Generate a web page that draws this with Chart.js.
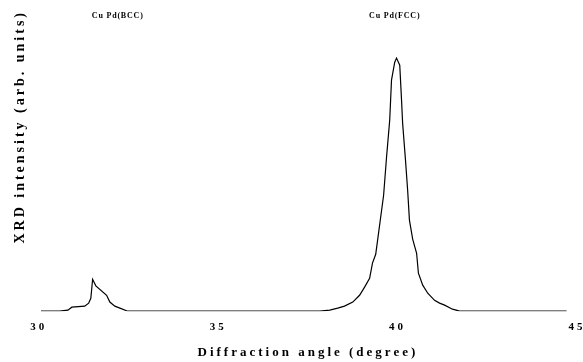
<!DOCTYPE html>
<html>
<head>
<meta charset="utf-8">
<script src="https://cdn.jsdelivr.net/npm/chart.js@4/dist/chart.umd.min.js"></script>
<style>
  html, body { margin: 0; padding: 0; background: #fff; }
  #wrap { width: 583px; height: 362px; }
</style>
</head>
<body>
<div id="wrap"><canvas id="xrd" width="583" height="362"></canvas></div>
<script>
const angles = [30.06, 30.58, 30.81, 30.92, 31.28, 31.39, 31.45, 31.50, 31.59, 31.89, 31.98, 32.12, 32.26, 32.48,
  37.83, 38.11, 38.33, 38.52, 38.75, 38.94, 39.08, 39.22, 39.30, 39.39, 39.61, 39.69, 39.78, 39.83, 39.92, 39.97,
  40.06, 40.11, 40.14, 40.22, 40.28, 40.33, 40.42, 40.53, 40.58, 40.70, 40.84, 41.03, 41.17, 41.31, 41.53, 41.73, 44.71];
const intensity = [0, 0, 0.4, 1.6, 2, 3.2, 5.1, 12.6, 10, 6.3, 3.6, 2, 1.2, 0,
  0, 0.4, 1.2, 2, 3.6, 6.3, 9.5, 13, 19, 22.5, 45.8, 60.5, 75.5, 91.3, 98.4, 100,
  97.2, 83.4, 74.3, 59.7, 47.8, 36, 28.5, 22.9, 15, 10.3, 7.1, 4.3, 3.2, 2.4, 0.8, 0, 0];
const xTicks = [30, 35, 40, 45];
const peakLabels = ['Cu Pd(BCC)', 'Cu Pd(FCC)'];
const peakLabelX = [32.2, 39.92];
const peakLabelY = [116.5, 116.5];

const serif = '"Liberation Serif", "DejaVu Serif", serif';

// espaçamento largo das letras, como no original digitalizado
const spacing = {
  id: 'spacing',
  beforeDraw(chart) { chart.ctx.letterSpacing = '3px'; },
  afterDraw(chart) { chart.ctx.letterSpacing = '0px'; }
};

// rótulos dos picos no topo
const peakText = {
  id: 'peakText',
  afterDatasetsDraw(chart) {
    const { ctx, scales } = chart;
    ctx.save();
    ctx.letterSpacing = '0.8px';
    ctx.font = 'bold 8px ' + serif;
    ctx.fillStyle = '#000';
    ctx.textAlign = 'center';
    ctx.textBaseline = 'middle';
    peakLabels.forEach((t, i) => {
      ctx.fillText(t, scales.x.getPixelForValue(peakLabelX[i]), scales.y.getPixelForValue(peakLabelY[i]));
    });
    ctx.restore();
  }
};

new Chart(document.getElementById('xrd').getContext('2d'), {
  type: 'line',
  data: {
    datasets: [{
      data: angles.map((a, i) => ({ x: a, y: intensity[i] })),
      borderColor: '#000',
      borderWidth: 1.2,
      pointRadius: 0,
      tension: 0,
      fill: false
    }]
  },
  options: {
    responsive: false,
    animation: false,
    layout: { padding: { top: 10, right: 6, left: 8, bottom: 0 } },
    plugins: { legend: { display: false }, tooltip: { enabled: false } },
    scales: {
      x: {
        type: 'linear',
        min: 30, max: 45,
        grid: { display: false },
        border: { display: false },
        afterBuildTicks: s => { s.ticks = xTicks.map(v => ({ value: v })); },
        afterFit: s => { s.paddingLeft = 0; s.paddingRight = 0; },
        ticks: { color: '#000', padding: 1, maxRotation: 0, font: { family: serif, size: 11, weight: 'bold' } },
        title: {
          display: true, text: 'Diffraction angle (degree)', color: '#000',
          font: { family: serif, size: 13, weight: 'bold' }, padding: { top: 10, bottom: 2 }
        }
      },
      y: {
        min: 0, max: 119,
        grid: { display: false },
        border: { display: false },
        ticks: { display: false },
        title: {
          display: true, align: 'end', text: 'XRD intensity (arb. units)', color: '#000',
          font: { family: serif, size: 14, weight: 'bold' }, padding: { top: 4, bottom: 2 }
        }
      }
    }
  },
  plugins: [spacing, peakText]
});
</script>
</body>
</html>
